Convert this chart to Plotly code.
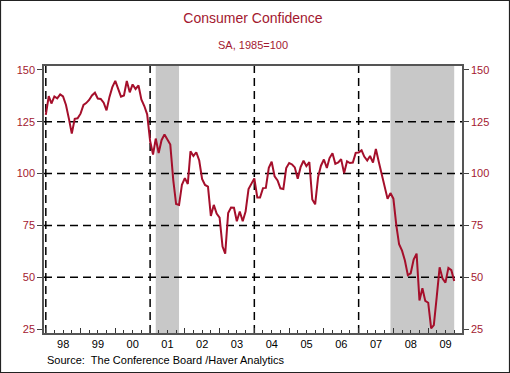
import pandas as pd
import plotly.graph_objects as go

# ---- data: Conference Board Consumer Confidence, SA, 1985=100 (monthly) ----
CC_1998 = [128.3, 137.4, 133.8, 137.2, 136.3, 138.2, 137.2, 133.1, 126.4, 119.3, 126.4, 126.7]
CC_1999 = [128.9, 133.1, 134.0, 135.5, 137.7, 139.0, 136.2, 136.0, 134.2, 130.5, 137.0, 141.7]
CC_2000 = [144.7, 140.8, 137.1, 137.7, 144.7, 139.2, 143.0, 140.8, 142.5, 135.8, 132.6, 128.6]
CC_2001 = [115.7, 109.2, 116.9, 109.9, 116.1, 118.9, 116.3, 114.0, 97.0, 85.3, 84.9, 94.6]
CC_2002 = [97.8, 95.0, 110.7, 108.5, 110.3, 106.3, 97.4, 94.5, 93.7, 79.6, 84.9, 80.7]
CC_2003 = [78.8, 64.8, 61.4, 81.0, 83.6, 83.5, 77.0, 81.7, 77.0, 81.7, 92.5, 94.8]
CC_2004 = [97.7, 88.5, 88.5, 93.0, 93.1, 102.8, 105.7, 98.7, 96.7, 92.9, 92.6, 102.7]
CC_2005 = [105.1, 104.4, 103.0, 97.5, 103.1, 106.2, 103.6, 105.5, 87.5, 85.2, 98.3, 103.8]
CC_2006 = [106.8, 102.7, 107.5, 109.8, 104.7, 105.4, 107.0, 100.2, 105.9, 105.1, 105.3, 110.0]
CC_2007 = [110.2, 111.2, 108.2, 106.3, 108.5, 105.3, 111.9, 105.6, 99.5, 95.2, 87.8, 90.6]
CC_2008 = [87.9, 75.0, 65.9, 62.8, 58.1, 51.0, 51.9, 58.5, 61.4, 38.8, 44.7, 38.6]
CC_2009 = [37.7, 25.3, 26.9, 40.8, 54.8, 49.3, 47.4, 54.5, 53.4, 48.2]
START_MONTH = "1998-01-01"

RECESSION_START = ["2001-03-01", "2007-12-01"]
RECESSION_END = ["2001-11-01", "2009-10-01"]

GRID_Y = [50, 75, 100, 125]
GRID_X = ["1998-01-01", "2001-01-01", "2004-01-01", "2007-01-01"]
Y_TICKS = [25, 50, 75, 100, 125, 150]

TITLE = "Consumer Confidence"
SUBTITLE = "SA, 1985=100"
SOURCE = "Source:  The Conference Board /Haver Analytics"

values = CC_1998 + CC_1999 + CC_2000 + CC_2001 + CC_2002 + CC_2003 + CC_2004 + \
    CC_2005 + CC_2006 + CC_2007 + CC_2008 + CC_2009
dates = pd.date_range(START_MONTH, periods=len(values), freq="MS")

# ---- style ----
W, H = 510, 373
ML, MR, MT, MB = 44, 48, 66, 40
PW, PH = W - ML - MR, H - MT - MB
RED = "#a3182f"
LINE_RED = "#a50f2b"
FONT = "Liberation Sans, Arial, sans-serif"
Y_RANGE = [23.1, 151.9]
X_RANGE = ["1997-12-13", "2009-12-22"]

fig = go.Figure()
fig.add_trace(go.Scatter(x=dates, y=values, mode="lines",
                         line=dict(color=LINE_RED, width=2), showlegend=False,
                         hoverinfo="x+y"))
# invisible trace on right axis so it renders
fig.add_trace(go.Scatter(x=dates[:1], y=values[:1], yaxis="y2", mode="lines",
                         line=dict(width=0), showlegend=False, hoverinfo="skip"))

shapes = []
for s, e in zip(RECESSION_START, RECESSION_END):
    shapes.append(dict(type="rect", xref="x", yref="paper", x0=s, x1=e, y0=0, y1=1,
                       fillcolor="#c8c8c8", line=dict(width=0), layer="below"))
for gy in GRID_Y:
    shapes.append(dict(type="line", xref="paper", yref="y", x0=0, x1=1, y0=gy, y1=gy,
                       line=dict(color="black", width=1.5, dash="8px,5px"), layer="below"))
for gx in GRID_X:
    shapes.append(dict(type="line", xref="x", yref="paper", x0=gx, x1=gx, y0=0, y1=1,
                       line=dict(color="black", width=1.5, dash="8px,5px"), layer="below"))
# outer frame of the picture
shapes.append(dict(type="rect", xref="paper", yref="paper",
                   x0=(-ML + 0.5) / PW, x1=(PW + MR - 0.5) / PW,
                   y0=(-MB + 0.5) / PH, y1=(PH + MT - 0.5) / PH,
                   line=dict(color="#222", width=1.2), fillcolor="rgba(0,0,0,0)"))

axis_common = dict(range=Y_RANGE, tickvals=Y_TICKS, ticks="outside", ticklen=5,
                   tickcolor="#444", tickwidth=1, showgrid=False, zeroline=False,
                   showline=True, linecolor="#555", linewidth=1.5,
                   tickfont=dict(family=FONT, size=11, color=RED))

fig.update_layout(
    width=W, height=H,
    margin=dict(l=ML, r=MR, t=MT, b=MB),
    paper_bgcolor="white", plot_bgcolor="white",
    font=dict(family=FONT),
    title=dict(text=TITLE, x=(PW / 2) / W + ML / W, xanchor="center",
               y=1 - 18 / H, yanchor="middle",
               font=dict(family=FONT, size=14, color=RED)),
    xaxis=dict(type="date", range=X_RANGE, tick0="1998-01-01", dtick="M12",
               tickformat="%y", ticklabelmode="period", ticks="inside", ticklen=5,
               tickcolor="#333", tickwidth=1,
               minor=dict(dtick="M3", ticks="inside", ticklen=3, tickcolor="#333"),
               showgrid=False, zeroline=False, showline=True, mirror=True,
               linecolor="#555", linewidth=1.5,
               tickfont=dict(family=FONT, size=11, color="black")),
    yaxis=dict(side="left", **axis_common),
    yaxis2=dict(side="right", overlaying="y", **axis_common),
    shapes=shapes,
    annotations=[
        dict(text=SUBTITLE, xref="paper", yref="paper", x=0.5, y=(PH + MT - 45) / PH,
             xanchor="center", yanchor="middle", showarrow=False,
             font=dict(family=FONT, size=11, color=RED)),
        dict(text=SOURCE, xref="paper", yref="paper", x=1 / PW, y=-(360 - MT - PH) / PH,
             xanchor="left", yanchor="middle", showarrow=False,
             font=dict(family=FONT, size=11, color="black")),
    ],
)

fig.write_html("out.html", config={"displayModeBar": False},
               post_script="document.body.style.margin='0';")
